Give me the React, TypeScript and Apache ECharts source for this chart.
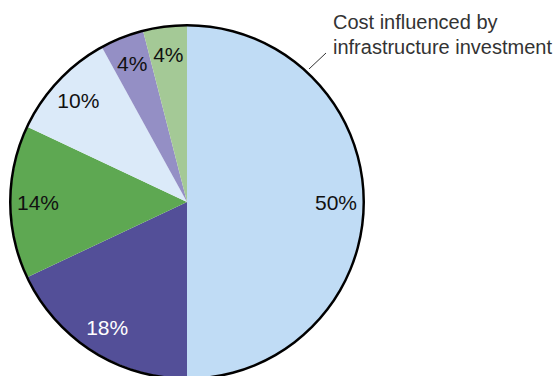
import React, { useEffect, useRef } from "react";
import * as echarts from "echarts";

const categories = ["A", "B", "C", "D", "E", "F"];
const values = [50, 18, 14, 10, 4, 4];
const colors = ["#c0dcf5", "#534f98", "#5ea852", "#dbeaf9", "#948fc5", "#a4c996"];
const labelColors = ["#111111", "#ffffff", "#111111", "#111111", "#111111", "#111111"];
const annotation = ["Cost influenced by", "infrastructure investment"];

export default function App() {
  const ref = useRef<HTMLDivElement>(null);
  useEffect(() => {
    if (!ref.current) return;
    const chart = echarts.init(ref.current, undefined, { renderer: "svg" });
    const center = [187, 202];
    chart.setOption({
      animation: false,
      backgroundColor: "#ffffff",
      series: [
        {
          type: "pie",
          center,
          radius: [0, 176],
          startAngle: 90,
          clockwise: true,
          silent: true,
          label: { show: false },
          labelLine: { show: false },
          data: categories.map((c, i) => ({
            name: c,
            value: values[i],
            itemStyle: { color: colors[i] },
          })),
        },
        {
          type: "pie",
          center,
          radius: [116, 176],
          startAngle: 90,
          clockwise: true,
          silent: true,
          z: 3,
          labelLine: { show: false },
          label: {
            show: true,
            position: "inside",
            formatter: "{c}%",
            fontSize: 21,
            fontFamily: "Liberation Sans, Arial, sans-serif",
          },
          data: categories.map((c, i) => ({
            name: c,
            value: values[i],
            itemStyle: { color: "rgba(0,0,0,0)" },
            label: { color: labelColors[i] },
          })),
        },
        {
          type: "pie",
          center,
          radius: [175.5, 178],
          silent: true,
          z: 4,
          label: { show: false },
          labelLine: { show: false },
          data: [{ name: "outline", value: 1, itemStyle: { color: "#000000" } }],
        },
      ],
      graphic: [
        {
          type: "line",
          shape: { x1: 309, y1: 69, x2: 326, y2: 53 },
          style: { stroke: "#333333", lineWidth: 1 },
        },
        {
          type: "text",
          x: 333,
          y: 9,
          style: {
            text: annotation.join("\n"),
            fontSize: 20,
            lineHeight: 25,
            fontFamily: "Liberation Sans, Arial, sans-serif",
            fill: "#333333",
          },
        },
      ],
    });
    return () => chart.dispose();
  }, []);
  return (
    <div
      ref={ref}
      style={{ position: "fixed", left: 0, top: 0, width: 554, height: 376 }}
    />
  );
}
